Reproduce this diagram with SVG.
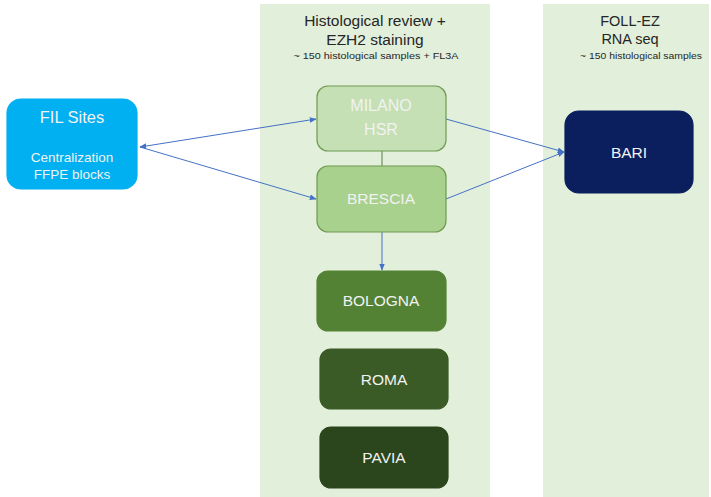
<svg xmlns="http://www.w3.org/2000/svg" width="711" height="497" viewBox="0 0 711 497">
<defs>
<style>
.panel{fill:#e2efda}
.node rect{stroke-width:1.2}
.lbl{font-family:"Liberation Sans",Arial,sans-serif;fill:#f2f2f2;text-anchor:middle}
.hdr{font-family:"Liberation Sans",Arial,sans-serif;fill:#262626;text-anchor:middle}
.conn{stroke:#4472c4;stroke-width:1;fill:none}
</style>
<marker id="ah" viewBox="0 0 10 10" refX="9" refY="5" markerWidth="7" markerHeight="7" orient="auto-start-reverse" markerUnits="userSpaceOnUse">
<path d="M0,1 L10,5 L0,9 Z" fill="#4472c4"/>
</marker>
</defs>
<rect width="711" height="497" fill="#ffffff"/>
<rect class="panel" x="260" y="4" width="230" height="493"/>
<rect class="panel" x="543" y="4" width="166" height="493"/>

<g id="header1">
<text class="hdr" x="375" y="26" font-size="15.5">Histological review +</text>
<text class="hdr" x="375" y="45" font-size="15.5">EZH2 staining</text>
<text class="hdr" x="376" y="59" font-size="9.5" textLength="165" lengthAdjust="spacingAndGlyphs">~ 150 histological samples + FL3A</text>
</g>
<g id="header2">
<text class="hdr" x="630" y="26" font-size="14.5">FOLL-EZ</text>
<text class="hdr" x="630" y="44" font-size="14.5">RNA seq</text>
<text class="hdr" x="641" y="59" font-size="9.5" textLength="122" lengthAdjust="spacingAndGlyphs">~ 150 histological samples</text>
</g>

<g id="connectors">
<line x1="382" y1="151" x2="382" y2="166" stroke="#5b7f45" stroke-width="1"/>
<line class="conn" x1="140" y1="147" x2="316" y2="119" marker-start="url(#ah)" marker-end="url(#ah)"/>
<line class="conn" x1="140" y1="147" x2="316" y2="199" marker-end="url(#ah)"/>
<line class="conn" x1="446" y1="119" x2="564" y2="152" marker-end="url(#ah)"/>
<line class="conn" x1="446" y1="199" x2="564" y2="152" marker-end="url(#ah)"/>
<line class="conn" x1="382" y1="232" x2="382" y2="270" marker-end="url(#ah)"/>
</g>

<g id="fil" class="node">
<rect x="7" y="99" width="130" height="90" rx="14" fill="#00b0f0" stroke="#00b0f0"/>
<text class="lbl" x="72" y="123" font-size="16.5" fill="#e8f6fc">FIL Sites</text>
<text class="lbl" x="72" y="162" font-size="13.5" fill="#e8f6fc">Centralization</text>
<text class="lbl" x="72" y="179" font-size="13.5" fill="#e8f6fc">FFPE blocks</text>
</g>
<g id="milano" class="node">
<rect x="317" y="86" width="129" height="65" rx="11" fill="#c5e0b4" stroke="#6f9a50"/>
<text class="lbl" x="381" y="111" font-size="16">MILANO</text>
<text class="lbl" x="381" y="135" font-size="16">HSR</text>
</g>
<g id="brescia" class="node">
<rect x="317" y="166" width="129" height="66" rx="11" fill="#a9d18e" stroke="#6f9a50"/>
<text class="lbl" x="381" y="204" font-size="15.5">BRESCIA</text>
</g>
<g id="bologna" class="node">
<rect x="317" y="271" width="129" height="60" rx="11" fill="#548235" stroke="#548235"/>
<text class="lbl" x="381" y="306" font-size="15.5">BOLOGNA</text>
</g>
<g id="roma" class="node">
<rect x="320" y="349" width="128" height="60" rx="11" fill="#3a5a26" stroke="#3a5a26"/>
<text class="lbl" x="384" y="385" font-size="15.5">ROMA</text>
</g>
<g id="pavia" class="node">
<rect x="320" y="427" width="128" height="61" rx="11" fill="#2b451c" stroke="#2b451c"/>
<text class="lbl" x="384" y="463" font-size="15.5">PAVIA</text>
</g>
<g id="bari" class="node">
<rect x="565" y="111" width="128" height="82" rx="14" fill="#0b1f5e" stroke="#0b1f5e"/>
<text class="lbl" x="629" y="158" font-size="15.5">BARI</text>
</g>
</svg>
